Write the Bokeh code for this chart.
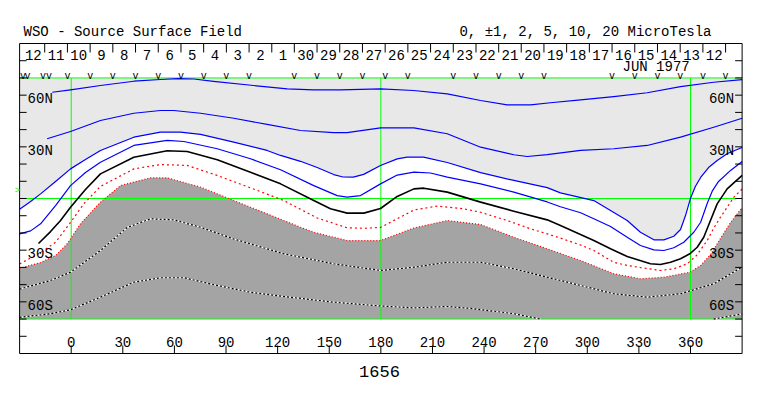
from bokeh.plotting import figure
from bokeh.models import Range1d
from bokeh.embed import file_html
from bokeh.resources import INLINE
from bokeh.core.properties import value

# ---------------- data (longitude in degrees, latitude in degrees) ----------------
LAT_TICKS = [-80, -70, -60, -50, -40, -30, -20, -10, 0, 10, 20, 30, 40, 50, 60, 70, 80]
LON_TICKS = [0, 30, 60, 90, 120, 150, 180, 210, 240, 270, 300, 330, 360]
LON_TICK_LABELS = ["0", "30", "60", "90", "120", "150", "180", "210", "240", "270", "300", "330", "360"]
LAT_LABEL_VALUES = [60, 30, -30, -60]
LAT_LABELS = ["60N", "30N", "30S", "60S"]
GREEN_LON = [0, 180, 360]
GREEN_LAT = [70, 0, -70]

DAY_TICK_LON = [-15.4, -2.2, 11.0, 24.2, 37.4, 50.6, 63.8, 77.0, 90.2, 103.4, 116.6,
                129.7, 142.9, 156.1, 169.3, 182.5, 195.7, 208.9, 222.1, 235.3, 248.5,
                261.6, 274.8, 288.0, 301.2, 314.4, 327.6, 340.8, 354.0, 367.2, 380.4]
DAY_LABELS = ["12", "11", "10", "9", "8", "7", "6", "5", "4", "3", "2", "1", "30", "29",
              "28", "27", "26", "25", "24", "23", "22", "21", "20", "19", "18", "17",
              "16", "15", "14", "13", "12"]
OBS_LON = [-28.0, -25.4, -16.4, -12.9, -2.2, 11.0, 24.2, 37.4, 50.6, 63.8, 77.0, 90.2,
           103.4, 129.7, 142.9, 156.1, 169.3, 182.5, 195.7, 222.1, 235.3, 248.5, 261.6,
           274.8, 314.4, 327.6, 340.8, 354.0, 367.2, 380.4]

POS10_LON = [-11.0, -0.4, 17.0, 36.4, 51.9, 62.0, 71.3, 82.7, 106.0, 125.6, 140.9, 156.5,
             179.8, 199.0, 218.6, 238.0, 253.4, 267.0, 278.6, 296.1, 315.4, 334.8, 354.2,
             373.5, 390.0]
POS10_LAT = [61.7, 63.1, 65.6, 68.1, 69.1, 69.6, 69.4, 68.0, 65.6, 63.7, 63.1, 63.1,
             63.7, 62.7, 60.8, 56.9, 54.4, 54.4, 55.6, 57.3, 59.2, 61.4, 65.0, 67.5, 69.0]

POS5_LON = [-14.0, -0.4, 17.0, 36.4, 51.9, 59.6, 75.2, 94.5, 113.9, 133.3, 152.6, 160.4,
            179.8, 199.2, 218.6, 238.0, 257.3, 265.1, 276.7, 296.1, 315.4, 334.8, 354.2,
            373.5, 390.0]
POS5_LAT = [34.7, 38.9, 45.3, 49.5, 51.1, 51.1, 49.5, 46.6, 43.0, 39.5, 38.3, 38.3, 41.0,
            41.0, 37.6, 29.8, 25.4, 24.4, 25.5, 27.9, 28.9, 30.8, 35.6, 41.4, 46.6]

POS2_LON = [-30.0, -23.6, -17.8, -9.1, -0.4, 8.3, 17.0, 36.4, 51.9, 63.5, 75.2, 94.5,
            113.9, 121.7, 133.3, 143.0, 152.6, 158.0, 164.0, 170.0, 179.8, 189.5, 195.3,
            204.8, 218.6, 238.0, 257.3, 276.7, 284.4, 303.8, 313.5, 323.2, 330.9, 338.7,
            344.5, 350.3, 354.2, 357.1, 359.9, 362.8, 365.9, 370.5, 375.5, 381.5, 390.0]
POS2_LAT = [-6.3, -1.7, 2.7, 9.9, 17.2, 22.6, 27.9, 35.6, 38.5, 38.5, 37.2, 32.7,
            27.9, 25.0, 21.6, 18.0, 13.9, 12.5, 12.4, 14.0, 19.2, 23.0, 24.0,
            24.0, 20.9, 15.0, 10.5, 6.3, 3.3, -1.2, -7.0, -12.8, -19.6, -24.0,
            -24.0, -21.9, -18.0, -9.9, -0.2, 7.0, 12.2, 18.0, 22.1, 26.1, 29.6]

POS1_LON = [-30.0, -23.6, -17.8, -9.1, -0.4, 8.3, 17.0, 36.4, 55.8, 65.5, 84.9, 104.2,
            121.7, 141.0, 154.6, 160.4, 168.2, 179.8, 189.5, 199.2, 208.9, 218.6, 238.0,
            257.3, 276.7, 284.4, 296.1, 303.8, 313.5, 323.2, 330.9, 338.7, 344.5, 350.3,
            356.1, 361.9, 365.9, 369.7, 372.8, 376.3, 383.3, 390.0]
POS1_LAT = [-20.5, -18.8, -14.7, -4.1, 7.5, 15.1, 21.1, 30.8, 33.7, 33.1, 28.9, 23.1,
            16.7, 7.5, 1.7, 0.8, 1.7, 8.5, 13.6, 15.3, 14.8, 12.4, 8.5,
            3.7, -2.0, -4.8, -8.3, -11.8, -16.3, -22.5, -27.3, -29.8, -30.2, -28.6,
            -25.4, -19.6, -13.8, -2.9, 4.6, 9.9, 16.3, 21.5]

ZERO_LON = [-19.0, -12.0, -6.2, -0.4, 8.3, 17.0, 36.4, 55.8, 67.4, 84.9, 104.2, 121.7,
            141.0, 150.7, 160.4, 170.1, 179.8, 189.5, 199.2, 205.0, 218.6, 238.0, 257.3,
            276.7, 284.4, 303.8, 313.5, 323.2, 336.7, 342.5, 348.4, 354.2, 359.6, 363.9,
            367.7, 371.6, 375.5, 381.3, 390.0]
ZERO_LAT = [-26.1, -19.2, -12.8, -5.1, 5.2, 14.3, 24.0, 27.7, 27.3, 22.5, 15.3, 8.5,
            -1.2, -6.0, -8.5, -8.5, -5.8, 1.2, 5.6, 6.0, 3.7, -2.1, -7.4,
            -12.4, -15.7, -24.4, -29.2, -33.7, -37.9, -38.3, -37.0, -35.0, -32.1, -28.3,
            -22.5, -12.8, -3.1, 5.6, 13.4]

NEG1_LON = [-30.0, -17.8, -9.1, -0.4, 7.3, 17.0, 36.4, 51.9, 67.4, 84.9, 104.2, 123.6,
            143.0, 160.4, 170.0, 179.8, 199.2, 212.8, 228.2, 238.0, 253.5, 267.0, 276.7,
            284.4, 296.1, 303.8, 315.4, 323.2, 330.9, 342.5, 350.3, 358.1, 363.5, 369.7,
            373.4, 377.4, 381.6, 385.2, 390.0]
NEG1_LAT = [-38.0, -31.4, -25.4, -13.9, -3.1, 7.0, 17.2, 19.7, 19.2, 13.4, 6.2, -1.2,
            -11.3, -17.0, -17.3, -16.8, -6.7, -4.4, -6.0, -8.0, -12.8, -17.6, -20.5,
            -23.0, -27.0, -30.2, -37.0, -38.9, -40.1, -41.8, -40.8, -37.9, -33.1, -24.4,
            -17.4, -10.9, -4.6, 0.8, 5.5]

NEG2_LON = [-30.0, -17.8, -9.1, -2.3, 5.4, 17.0, 28.7, 46.1, 55.8, 75.2, 94.5, 113.9,
            133.3, 141.0, 160.4, 179.8, 199.2, 218.6, 238.0, 257.3, 276.7, 296.1, 315.4,
            330.9, 344.5, 359.6, 365.9, 371.7, 377.4, 383.3, 390.0]
NEG2_LAT = [-40.5, -37.2, -33.1, -26.3, -14.7, -2.1, 7.5, 12.0, 12.0, 6.6, -1.2, -8.9,
            -16.7, -19.6, -24.4, -24.4, -17.1, -12.8, -15.1, -22.5, -29.2, -36.0, -43.7,
            -46.6, -45.7, -42.8, -38.9, -32.5, -23.2, -13.9, -5.2]

NEG5_LON = [-30.0, -12.0, -0.4, 17.0, 32.6, 46.1, 59.6, 75.2, 94.5, 123.6, 152.6, 179.8,
            199.2, 218.6, 238.0, 257.3, 276.7, 296.1, 315.4, 334.8, 354.2, 373.5, 390.0]
NEG5_LAT = [-52.6, -47.6, -42.8, -30.2, -16.8, -11.8, -12.4, -16.7, -23.5, -32.1, -37.9,
            -41.8, -39.9, -37.0, -37.0, -40.8, -45.7, -50.5, -55.3, -57.3, -55.3, -49.5,
            -39.9]

NEG10_LON = [[-30.0, -12.0, -0.4, 17.0, 36.4, 51.9, 65.5, 84.9, 104.2, 123.6, 152.6, 179.8,
              199.2, 218.6, 234.0, 257.3, 272.8],
             [373.5, 390.0]]
NEG10_LAT = [[-69.0, -66.9, -64.6, -57.3, -48.6, -46.0, -46.0, -50.5, -54.4, -56.9, -60.2,
              -62.4, -63.5, -62.7, -64.0, -66.9, -70.0],
             [-70.0, -67.0]]

TITLE = "WSO - Source Surface Field"
LEVELS_TEXT = "0, \u00b11, 2, 5, 10, 20 MicroTesla"
MONTH_TEXT = "JUN 1977"
ROTATION_TEXT = "1656"

# ---------------- layout / style ----------------
X_MIN, X_MAX = -30.0, 390.0
Y_MIN, Y_MAX = -90.0, 90.0
PLOT_TOP, PLOT_BOTTOM = 70.0, -70.0
DEG_PER_PX_X = 1 / 1.7203
DEG_PER_PX_Y = 1 / 1.7222

LIGHT = "#e8e8e8"
DARK = "#a4a4a4"
GREEN = "#00ff00"
FONT = value("Liberation Mono")

p = figure(width=755, height=388,
           x_range=Range1d(-41.10, 397.78), y_range=Range1d(-110.32, 114.97),
           x_axis_type=None, y_axis_type=None, output_backend="svg",
           toolbar_location=None, min_border=0, outline_line_color=None,
           background_fill_color="white", border_fill_color="white")

# shaded regions
p.varea(x=POS2_LON, y1=POS2_LAT, y2=PLOT_TOP, fill_color=LIGHT)
p.varea(x=NEG2_LON, y1=PLOT_BOTTOM, y2=NEG2_LAT, fill_color=DARK)

# green reference lines
p.segment(x0=[X_MIN] * len(GREEN_LAT), x1=[X_MAX] * len(GREEN_LAT),
          y0=GREEN_LAT, y1=GREEN_LAT, line_color=GREEN, line_width=1)
p.segment(x0=GREEN_LON, x1=GREEN_LON, y0=PLOT_BOTTOM, y1=PLOT_TOP,
          line_color=GREEN, line_width=1)

# contours
for lon, lat in [(POS10_LON, POS10_LAT), (POS5_LON, POS5_LAT),
                 (POS2_LON, POS2_LAT), (POS1_LON, POS1_LAT)]:
    p.line(lon, lat, line_color="#0000ff", line_width=1.2, line_join="round")
p.line(ZERO_LON, ZERO_LAT, line_color="black", line_width=1.6, line_join="round")
p.line(NEG1_LON, NEG1_LAT, line_color="#ff0000", line_width=1.2, line_dash="2 3")
p.line(NEG2_LON, NEG2_LAT, line_color="#ff0000", line_width=1.2, line_dash="1 2")
p.line(NEG5_LON, NEG5_LAT, line_color="white", line_width=1.2, line_join="round")
p.line(NEG5_LON, NEG5_LAT, line_color="black", line_width=1.2, line_dash="2 2")
p.multi_line(NEG10_LON, NEG10_LAT, line_color="white", line_width=1.2, line_join="round")
p.multi_line(NEG10_LON, NEG10_LAT, line_color="black", line_width=1.2, line_dash="2 2")

# frame
p.quad(left=X_MIN, right=X_MAX, bottom=Y_MIN, top=Y_MAX,
       fill_color=None, line_color="black", line_width=1)

# ticks
tx = 7 * DEG_PER_PX_X
ty = 8 * DEG_PER_PX_Y
p.segment(x0=[X_MIN] * len(LAT_TICKS), x1=[X_MIN + tx] * len(LAT_TICKS),
          y0=LAT_TICKS, y1=LAT_TICKS, line_color="black")
p.segment(x0=[X_MAX] * len(LAT_TICKS), x1=[X_MAX - tx] * len(LAT_TICKS),
          y0=LAT_TICKS, y1=LAT_TICKS, line_color="black")
p.segment(x0=LON_TICKS, x1=LON_TICKS, y0=[Y_MIN] * len(LON_TICKS),
          y1=[Y_MIN + ty] * len(LON_TICKS), line_color="black")
p.segment(x0=DAY_TICK_LON, x1=DAY_TICK_LON, y0=[Y_MAX] * len(DAY_TICK_LON),
          y1=[Y_MAX - 9 * DEG_PER_PX_Y] * len(DAY_TICK_LON), line_color="black")

# texts
FS = "14px"
p.text(x=[-27.7], y=[96.4], text=[TITLE], text_font=FONT, text_font_size=FS,
       text_align="left", text_baseline="alphabetic", text_color="black")
p.text(x=[372.2], y=[96.4], text=[LEVELS_TEXT], text_font=FONT, text_font_size=FS,
       text_align="right", text_baseline="alphabetic", text_color="black")

half = (DAY_TICK_LON[1] - DAY_TICK_LON[0]) / 2
day_x = [DAY_TICK_LON[0] - half] + [(a + b) / 2 for a, b in zip(DAY_TICK_LON[:-1], DAY_TICK_LON[1:])]
p.text(x=day_x, y=[83.6] * len(day_x), text=DAY_LABELS, text_font=FONT, text_font_size=FS,
       text_align="center", text_baseline="alphabetic", text_color="black")
p.text(x=[340.0], y=[76.1], text=[MONTH_TEXT], text_font=FONT, text_font_size=FS,
       text_align="center", text_baseline="alphabetic", text_color="black")
p.text(x=OBS_LON, y=[71.0] * len(OBS_LON), text=["v"] * len(OBS_LON), text_font=FONT,
       text_font_size="10px", text_align="center", text_baseline="alphabetic",
       text_color="black")

lab_y = [v - 2.4 for v in LAT_LABEL_VALUES]
p.text(x=[X_MIN + 8 * DEG_PER_PX_X] * len(LAT_LABELS), y=lab_y, text=LAT_LABELS,
       text_font=FONT, text_font_size=FS, text_align="left", text_baseline="alphabetic",
       text_color="black")
p.text(x=[X_MAX - 8 * DEG_PER_PX_X] * len(LAT_LABELS), y=lab_y, text=LAT_LABELS,
       text_font=FONT, text_font_size=FS, text_align="right", text_baseline="alphabetic",
       text_color="black")
p.text(x=LON_TICKS, y=[-83.4] * len(LON_TICKS), text=LON_TICK_LABELS, text_font=FONT,
       text_font_size=FS, text_align="center", text_baseline="alphabetic",
       text_color="black")
p.text(x=[179.2], y=[-100.4], text=[ROTATION_TEXT], text_font=FONT, text_font_size="17px",
       text_align="center", text_baseline="alphabetic", text_color="black")
p.text(x=[-31.2], y=[4.4], text=[">"], text_font=FONT, text_font_size="9px",
       text_align="center", text_baseline="middle", text_color=GREEN)

open("out.html", "w").write(file_html(p, INLINE))
